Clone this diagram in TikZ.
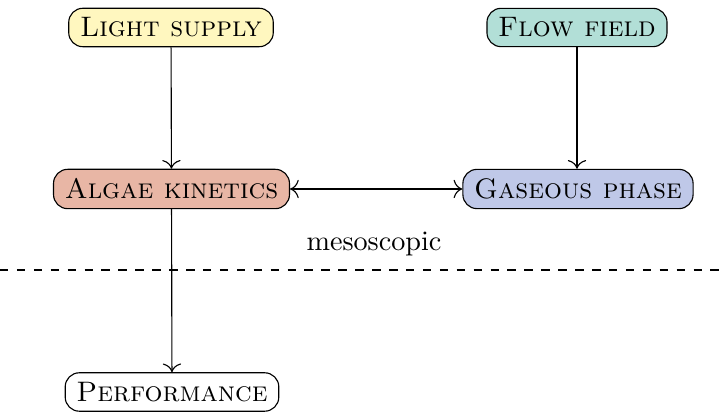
\documentclass[tikz,border=0pt]{standalone}
\usetikzlibrary{arrows.meta}
\definecolor{cyellow}{RGB}{255,247,191}
\definecolor{cteal}{RGB}{178,223,215}
\definecolor{csalmon}{RGB}{232,182,165}
\definecolor{cblue}{RGB}{191,200,232}
\tikzset{
  box/.style={draw, rounded corners=5pt, inner ysep=3.33pt, inner xsep=4pt, font=\scshape},
  conn/.style={-{To[scale=1.25]}},
  bconn/.style={{To[scale=1.25]}-{To[scale=1.25]}},
}
\begin{document}
\begin{tikzpicture}[x=0.01247cm, y=-0.01247cm]
\useasboundingbox (0,0) rectangle (727,414);
\node[box, fill=cyellow] (light) at (171,27.5) {Light supply};
\node[box, fill=cteal] (flow) at (577,27.5) {Flow field};
\node[box, fill=csalmon] (algae) at (171.5,189) {Algae kinetics};
\node[box, fill=cblue] (gas) at (578,189) {Gaseous phase};
\node[box] (perf) at (172,392) {Performance};
\node (meso) at (374,244) {mesoscopic};
\coordinate (dl) at (0,270);
\coordinate (dr) at (727,270);
\draw[dashed] (dl) -- (dr);
\draw[conn] (light) -- (algae);
\draw[conn] (flow) -- (flow |- gas.north);
\draw[bconn] (algae) -- (gas);
\draw[conn] (algae) -- (perf);
\end{tikzpicture}
\end{document}
